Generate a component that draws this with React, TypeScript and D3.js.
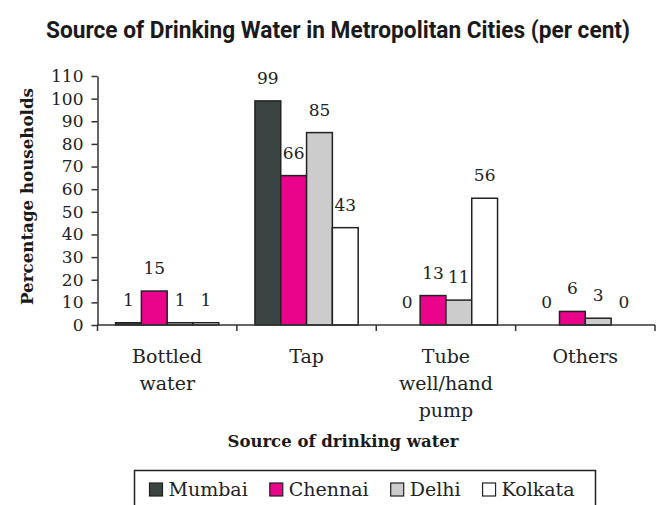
import React, { useEffect, useRef } from "react";
import * as d3 from "d3";

const categories: string[][] = [["Bottled", "water"], ["Tap"], ["Tube", "well/hand", "pump"], ["Others"]];
const seriesNames = ["Mumbai", "Chennai", "Delhi", "Kolkata"];
const seriesColors = ["#3a4442", "#ea048c", "#cccccc", "#ffffff"];
const mumbai = [1, 99, 0, 0];
const chennai = [15, 66, 13, 6];
const delhi = [1, 85, 11, 3];
const kolkata = [1, 43, 56, 0];
const yTicks = [0, 10, 20, 30, 40, 50, 60, 70, 80, 90, 100, 110];

const W = 656;
const H = 505;
const SERIF = "'DejaVu Serif', serif";

export default function App() {
  const ref = useRef<SVGSVGElement>(null);
  useEffect(() => {
    const svg = d3.select(ref.current!);
    svg.selectAll("*").remove();
    const values = [mumbai, chennai, delhi, kolkata];
    const catKeys = categories.map((c) => c.join(" "));

    const x0 = d3.scaleBand<string>().domain(catKeys).range([97.5, 655]).paddingInner(0).paddingOuter(0);
    const x1 = d3.scaleBand<string>().domain(seriesNames).range([0, x0.bandwidth()]).paddingInner(0).paddingOuter(0.7);
    const y = d3.scaleLinear().domain([0, 110]).range([325, 76]);

    // title
    svg.append("text")
      .attr("x", 338).attr("y", 38)
      .attr("text-anchor", "middle")
      .attr("font-family", "'Liberation Sans Narrow', 'Roboto', 'Liberation Sans', sans-serif")
      .attr("font-weight", "bold").attr("font-size", 23)
      .attr("textLength", 584).attr("lengthAdjust", "spacingAndGlyphs")
      .attr("fill", "#1a1a1a")
      .text("Source of Drinking Water in Metropolitan Cities (per cent)");

    // bars
    const g = svg.append("g");
    catKeys.forEach((ck, ci) => {
      seriesNames.forEach((s, si) => {
        const v = values[si][ci];
        const bx = x0(ck)! + x1(s)!;
        g.append("rect")
          .attr("x", bx).attr("y", y(v))
          .attr("width", x1.bandwidth()).attr("height", y(0) - y(v))
          .attr("fill", seriesColors[si])
          .attr("stroke", "#222").attr("stroke-width", 1.5);
        g.append("text")
          .attr("x", bx + x1.bandwidth() / 2).attr("y", y(v) - 17)
          .attr("text-anchor", "middle")
          .attr("font-family", SERIF).attr("font-size", 17)
          .attr("fill", "#222")
          .text(String(v));
      });
    });

    // y axis
    const ya = svg.append("g").attr("transform", "translate(97.5,0)")
      .call(d3.axisLeft(y).tickValues(yTicks).tickSize(6).tickPadding(8).tickSizeOuter(0));
    ya.select(".domain").attr("stroke", "#333").attr("stroke-width", 1.5);
    ya.selectAll(".tick line").attr("stroke", "#333").attr("stroke-width", 1.5);
    ya.selectAll(".tick text").attr("font-family", SERIF).attr("font-size", 17).attr("fill", "#222");

    // x axis
    const bounds = [...catKeys.map((c) => x0(c)!), 655];
    const xa = svg.append("g");
    xa.append("line").attr("x1", 97.5).attr("x2", 655).attr("y1", y(0)).attr("y2", y(0))
      .attr("stroke", "#333").attr("stroke-width", 1.5);
    bounds.forEach((bx) => {
      xa.append("line").attr("x1", bx).attr("x2", bx).attr("y1", y(0)).attr("y2", y(0) + 6)
        .attr("stroke", "#333").attr("stroke-width", 1.5);
    });
    categories.forEach((lines, ci) => {
      const cx = x0(catKeys[ci])! + x0.bandwidth() / 2;
      const t = xa.append("text").attr("text-anchor", "middle")
        .attr("font-family", SERIF).attr("font-size", 19).attr("fill", "#222");
      lines.forEach((ln, li) => {
        t.append("tspan").attr("x", cx).attr("y", 363 + li * 27).text(ln);
      });
    });

    // axis titles
    svg.append("text")
      .attr("x", 343).attr("y", 447).attr("text-anchor", "middle")
      .attr("font-family", SERIF).attr("font-weight", "bold").attr("font-size", 16)
      .attr("textLength", 231).attr("lengthAdjust", "spacingAndGlyphs")
      .attr("fill", "#1a1a1a").text("Source of drinking water");
    svg.append("text")
      .attr("transform", "translate(33,196.5) rotate(-90)")
      .attr("text-anchor", "middle")
      .attr("font-family", SERIF).attr("font-weight", "bold").attr("font-size", 16)
      .attr("textLength", 217).attr("lengthAdjust", "spacingAndGlyphs")
      .attr("fill", "#1a1a1a").text("Percentage households");

    // legend
    const lg = svg.append("g");
    lg.append("rect").attr("x", 134.5).attr("y", 470.5).attr("width", 461).attr("height", 45)
      .attr("fill", "none").attr("stroke", "#222").attr("stroke-width", 1.5);
    let lx = 149.5;
    seriesNames.forEach((s, si) => {
      lg.append("rect").attr("x", lx).attr("y", 483).attr("width", 13).attr("height", 13)
        .attr("fill", seriesColors[si]).attr("stroke", "#222").attr("stroke-width", 1.2);
      const t = lg.append("text").attr("x", lx + 19).attr("y", 496)
        .attr("font-family", SERIF).attr("font-size", 19).attr("fill", "#222").text(s);
      const w = (t.node() as SVGTextElement).getComputedTextLength();
      lx += 19 + w + 22;
    });
  }, []);
  return (
    <svg ref={ref} width={W} height={H} style={{ position: "absolute", left: 0, top: 0, background: "#fff" }} />
  );
}
